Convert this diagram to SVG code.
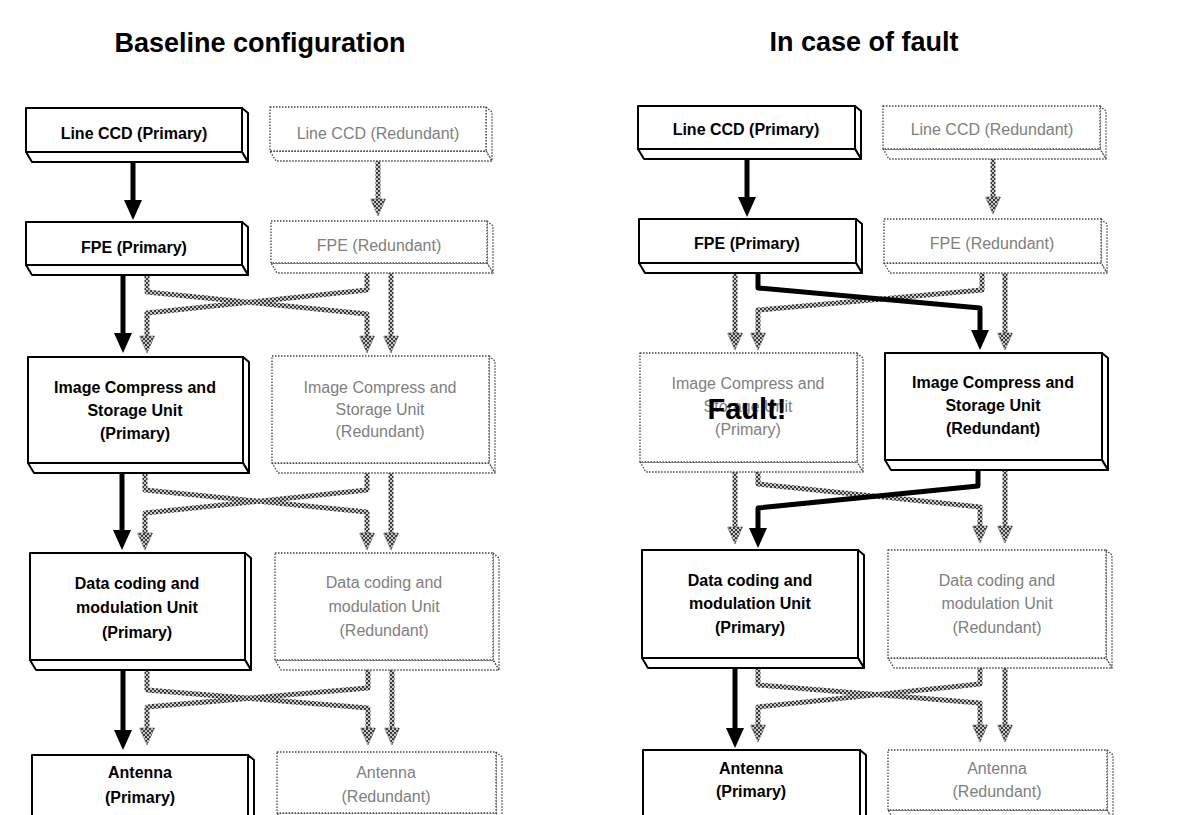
<svg xmlns="http://www.w3.org/2000/svg" width="1189" height="815" viewBox="0 0 1189 815">
<style>
.pf{fill:#fff;stroke:#000;stroke-width:2;stroke-linejoin:round}
.pd{fill:#fff;stroke:#444;stroke-width:1.3;stroke-dasharray:1.5 1.5;stroke-linejoin:round}
.tp{font-family:"Liberation Sans",Arial,sans-serif;font-weight:bold;font-size:16px;text-anchor:middle;fill:#000}
.tr{font-family:"Liberation Sans",Arial,sans-serif;font-size:16px;text-anchor:middle;fill:#808080}
.title{font-family:"Liberation Sans",Arial,sans-serif;font-weight:bold;font-size:27px;text-anchor:middle;fill:#000}
.fault{font-family:"Liberation Sans",Arial,sans-serif;font-weight:bold;font-size:29px;text-anchor:middle;fill:#000}
.blk{fill:none;stroke:#000;stroke-width:5;stroke-linejoin:round;marker-end:url(#ahb)}
.hat{fill:none;stroke:url(#chk);stroke-width:5;stroke-linejoin:round;marker-end:url(#ahh)}
</style>
<defs>
<pattern id="chk" width="4" height="4" patternUnits="userSpaceOnUse">
<rect width="4" height="4" fill="#c8c8c8"/>
<rect width="2" height="2" fill="#3a3a3a"/>
<rect x="2" y="2" width="2" height="2" fill="#3a3a3a"/>
</pattern>
<marker id="ahb" markerUnits="userSpaceOnUse" viewBox="0 -10 20 20" refX="0" refY="0" markerWidth="20" markerHeight="20" orient="auto" overflow="visible">
<path d="M0,-9 L20,0 L0,9 z" fill="#000"/>
</marker>
<marker id="ahh" markerUnits="userSpaceOnUse" viewBox="0 -8 17 16" refX="0" refY="0" markerWidth="17" markerHeight="16" orient="auto" overflow="visible">
<path d="M0,-7.5 L17,0 L0,7.5 z" fill="url(#chk)" stroke="#555" stroke-width="0.8" stroke-dasharray="1.5 1"/>
</marker>
</defs>
<rect width="1189" height="815" fill="#fff"/>

<text class="title" x="260" y="52">Baseline configuration</text>
<text class="title" x="864" y="51">In case of fault</text>

<!-- connectors -->
<g id="connectors">
<!-- left panel, hatched -->
<path class="hat" d="M378,154 V199"/>
<path class="hat" d="M147,275 V292 L367,314 V336"/>
<path class="hat" d="M367,273 V290 L147,313 V336"/>
<path class="hat" d="M391,273 V336"/>
<path class="hat" d="M145,472 V490 L367,512 V533"/>
<path class="hat" d="M367,471 V490 L145,513 V533"/>
<path class="hat" d="M391,471 V533"/>
<path class="hat" d="M147,670 V690 L368,708 V728"/>
<path class="hat" d="M368,670 V688 L147,707 V728"/>
<path class="hat" d="M392,670 V728"/>
<!-- left panel, black -->
<path class="blk" d="M133,162 V200"/>
<path class="blk" d="M123,275 V333"/>
<path class="blk" d="M122,473 V530"/>
<path class="blk" d="M123,670 V730"/>
<!-- right panel, hatched -->
<path class="hat" d="M993,155 V197"/>
<path class="hat" d="M735,273 V333"/>
<path class="hat" d="M982,272 V290 L758,310 V333"/>
<path class="hat" d="M1005,272 V333"/>
<path class="hat" d="M735,471 V527"/>
<path class="hat" d="M758,471 V484 L980,507 V526"/>
<path class="hat" d="M1005,469 V526"/>
<path class="hat" d="M758,668 V685 L980,703 V725"/>
<path class="hat" d="M980,668 V684 L758,707 V725"/>
<path class="hat" d="M1005,668 V725"/>
<!-- right panel, black -->
<path class="blk" d="M747,159 V197"/>
<path class="blk" d="M758,272 V288 L980,308 V330"/>
<path class="blk" d="M978,467 V486 L758,508 V528"/>
<path class="blk" d="M735,668 V728"/>
</g>

<!-- LEFT PANEL NODES -->
<g id="L-lcd-p">
<polygon class="pf" points="242,108 248,113 248,162 242,152"/>
<polygon class="pf" points="26,152 242,152 248,162 32,162"/>
<rect class="pf" x="26" y="108" width="216" height="44"/>
<text class="tp" x="134" y="139">Line CCD (Primary)</text>
</g>
<g id="L-lcd-r">
<polygon class="pd" points="486,107 492,112 492,161 486,151"/>
<polygon class="pd" points="270,151 486,151 492,161 276,161"/>
<rect class="pd" x="270" y="107" width="216" height="44"/>
<text class="tr" x="378" y="139">Line CCD (Redundant)</text>
</g>
<g id="L-fpe-p">
<polygon class="pf" points="242,222 248,227 248,275 242,265"/>
<polygon class="pf" points="26,265 242,265 248,275 32,275"/>
<rect class="pf" x="26" y="222" width="216" height="43"/>
<text class="tp" x="134" y="253">FPE (Primary)</text>
</g>
<g id="L-fpe-r">
<polygon class="pd" points="487,221 493,226 493,273 487,263"/>
<polygon class="pd" points="271,263 487,263 493,273 277,273"/>
<rect class="pd" x="271" y="221" width="216" height="42"/>
<text class="tr" x="379" y="251">FPE (Redundant)</text>
</g>
<g id="L-icsu-p">
<polygon class="pf" points="243,357 249,362 249,473 243,463"/>
<polygon class="pf" points="28,463 243,463 249,473 34,473"/>
<rect class="pf" x="28" y="357" width="215" height="106"/>
<text class="tp" x="135" y="393">Image Compress and</text>
<text class="tp" x="135" y="416">Storage Unit</text>
<text class="tp" x="135" y="439">(Primary)</text>
</g>
<g id="L-icsu-r">
<polygon class="pd" points="489,356 495,361 495,473 489,463"/>
<polygon class="pd" points="272,463 489,463 495,473 278,473"/>
<rect class="pd" x="272" y="356" width="217" height="107"/>
<text class="tr" x="380" y="393">Image Compress and</text>
<text class="tr" x="380" y="415">Storage Unit</text>
<text class="tr" x="380" y="437">(Redundant)</text>
</g>
<g id="L-dc-p">
<polygon class="pf" points="245,553 251,558 251,670 245,660"/>
<polygon class="pf" points="30,660 245,660 251,670 36,670"/>
<rect class="pf" x="30" y="553" width="215" height="107"/>
<text class="tp" x="137" y="589">Data coding and</text>
<text class="tp" x="137" y="613">modulation Unit</text>
<text class="tp" x="137" y="638">(Primary)</text>
</g>
<g id="L-dc-r">
<polygon class="pd" points="493,553 499,558 499,670 493,660"/>
<polygon class="pd" points="275,660 493,660 499,670 281,670"/>
<rect class="pd" x="275" y="553" width="218" height="107"/>
<text class="tr" x="384" y="588">Data coding and</text>
<text class="tr" x="384" y="612">modulation Unit</text>
<text class="tr" x="384" y="636">(Redundant)</text>
</g>
<g id="L-ant-p">
<polygon class="pf" points="248,755 254,760 254,830 248,830"/>
<rect class="pf" x="32" y="755" width="216" height="80"/>
<text class="tp" x="140" y="778">Antenna</text>
<text class="tp" x="140" y="803">(Primary)</text>
</g>
<g id="L-ant-r">
<polygon class="pd" points="496,752 502,757 502,823 496,813"/>
<polygon class="pd" points="277,813 496,813 502,823 283,823"/>
<rect class="pd" x="277" y="752" width="219" height="61"/>
<text class="tr" x="386" y="778">Antenna</text>
<text class="tr" x="386" y="802">(Redundant)</text>
</g>

<!-- RIGHT PANEL NODES -->
<g id="R-lcd-p">
<polygon class="pf" points="855,106 861,111 861,159 855,149"/>
<polygon class="pf" points="638,149 855,149 861,159 644,159"/>
<rect class="pf" x="638" y="106" width="217" height="43"/>
<text class="tp" x="746" y="135">Line CCD (Primary)</text>
</g>
<g id="R-lcd-r">
<polygon class="pd" points="1100,106 1106,111 1106,159 1100,149"/>
<polygon class="pd" points="883,149 1100,149 1106,159 889,159"/>
<rect class="pd" x="883" y="106" width="217" height="43"/>
<text class="tr" x="992" y="135">Line CCD (Redundant)</text>
</g>
<g id="R-fpe-p">
<polygon class="pf" points="856,219 862,224 862,273 856,263"/>
<polygon class="pf" points="639,263 856,263 862,273 645,273"/>
<rect class="pf" x="639" y="219" width="217" height="44"/>
<text class="tp" x="747" y="249">FPE (Primary)</text>
</g>
<g id="R-fpe-r">
<polygon class="pd" points="1101,219 1107,224 1107,273 1101,263"/>
<polygon class="pd" points="884,263 1101,263 1107,273 890,273"/>
<rect class="pd" x="884" y="219" width="217" height="44"/>
<text class="tr" x="992" y="249">FPE (Redundant)</text>
</g>
<g id="R-icsu-p">
<polygon class="pd" points="857,353 863,358 863,472 857,462"/>
<polygon class="pd" points="640,462 857,462 863,472 646,472"/>
<rect class="pd" x="640" y="353" width="217" height="109"/>
<text class="tr" x="748" y="389">Image Compress and</text>
<text class="tr" x="748" y="412">Storage Unit</text>
<text class="tr" x="748" y="435">(Primary)</text>
<text class="fault" x="747" y="419">Fault!</text>
</g>
<g id="R-icsu-r">
<polygon class="pf" points="1102,353 1108,358 1108,470 1102,460"/>
<polygon class="pf" points="885,460 1102,460 1108,470 891,470"/>
<rect class="pf" x="885" y="353" width="217" height="107"/>
<text class="tp" x="993" y="388">Image Compress and</text>
<text class="tp" x="993" y="411">Storage Unit</text>
<text class="tp" x="993" y="434">(Redundant)</text>
</g>
<g id="R-dc-p">
<polygon class="pf" points="858,550 864,555 864,668 858,658"/>
<polygon class="pf" points="642,658 858,658 864,668 648,668"/>
<rect class="pf" x="642" y="550" width="216" height="108"/>
<text class="tp" x="750" y="586">Data coding and</text>
<text class="tp" x="750" y="609">modulation Unit</text>
<text class="tp" x="750" y="633">(Primary)</text>
</g>
<g id="R-dc-r">
<polygon class="pd" points="1106,550 1112,555 1112,668 1106,658"/>
<polygon class="pd" points="888,658 1106,658 1112,668 894,668"/>
<rect class="pd" x="888" y="550" width="218" height="108"/>
<text class="tr" x="997" y="586">Data coding and</text>
<text class="tr" x="997" y="609">modulation Unit</text>
<text class="tr" x="997" y="633">(Redundant)</text>
</g>
<g id="R-ant-p">
<polygon class="pf" points="860,750 866,755 866,830 860,830"/>
<rect class="pf" x="643" y="750" width="217" height="80"/>
<text class="tp" x="751" y="774">Antenna</text>
<text class="tp" x="751" y="797">(Primary)</text>
</g>
<g id="R-ant-r">
<polygon class="pd" points="1107,750 1113,755 1113,820 1107,810"/>
<polygon class="pd" points="888,810 1107,810 1113,820 894,820"/>
<rect class="pd" x="888" y="750" width="219" height="60"/>
<text class="tr" x="997" y="774">Antenna</text>
<text class="tr" x="997" y="797">(Redundant)</text>
</g>
</svg>
